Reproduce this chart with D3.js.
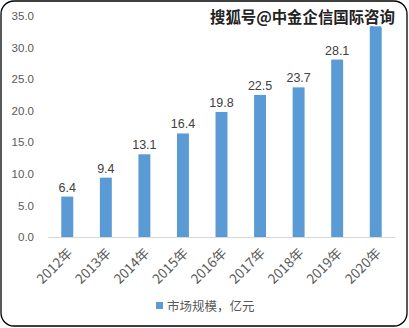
<!DOCTYPE html>
<html><head><meta charset="utf-8">
<script src="https://cdn.jsdelivr.net/npm/d3@7"></script>
<style>body{margin:0;background:#fff}svg{display:block}</style>
</head><body>
<svg id="c" width="409" height="328"></svg>
<script>
const categories = ["2012年","2013年","2014年","2015年","2016年","2017年","2018年","2019年","2020年"];
const values = [6.4, 9.4, 13.1, 16.4, 19.8, 22.5, 23.7, 28.1, 33.4];
const labels = ["6.4","9.4","13.1","16.4","19.8","22.5","23.7","28.1",""];
const yTicks = [0,5,10,15,20,25,30,35];
const seriesName = "市场规模，亿元";
const watermark = "搜狐号@中金企信国际咨询";

const svg = d3.select("#c");
const font = "'Noto Sans CJK SC', 'Liberation Sans', sans-serif";
svg.append("rect").attr("x",1).attr("y",1).attr("width",406).attr("height",325)
  .attr("rx",13).attr("fill","#fff").attr("stroke","#000").attr("stroke-width",1.3);

const x = d3.scaleBand().domain(categories).range([48,395]).paddingInner(0.69).paddingOuter(0.345);
const y = d3.scaleLinear().domain([0,35]).range([237,16]);

const yAxis = d3.axisLeft(y).tickValues(yTicks).tickFormat(d3.format(".1f")).tickSize(0).tickPadding(0);
const gy = svg.append("g").attr("transform","translate(34,0)").call(yAxis);
gy.select(".domain").remove();
gy.selectAll("text").attr("font-family","'Liberation Sans', Arial, sans-serif").attr("font-size",11.5).attr("fill","#595959");

svg.selectAll("rect.bar").data(values).enter().append("rect").attr("class","bar")
  .attr("x",(d,i)=>x(categories[i])).attr("width",x.bandwidth())
  .attr("y",d=>y(d)).attr("height",d=>y(0)-y(d)).attr("fill","#5b9bd5");

const xAxis = d3.axisBottom(x).tickSize(0).tickPadding(0);
const gx = svg.append("g").attr("transform",`translate(0,${y(0)})`).call(xAxis);
gx.select(".domain").attr("stroke","#d9d9d9").attr("stroke-width",1.2);
gx.selectAll("text").attr("font-family",font).attr("font-size",13.5).attr("fill","#595959")
  .attr("text-anchor","end").attr("dy",0).attr("y",0)
  .attr("transform","translate(6,17) rotate(-45)");

svg.selectAll("text.lbl").data(values).enter().append("text").attr("class","lbl")
  .attr("x",(d,i)=>x(categories[i])+x.bandwidth()/2).attr("y",d=>y(d)-5)
  .attr("text-anchor","middle").attr("font-family","'Liberation Sans', Arial, sans-serif")
  .attr("font-size",12.5).attr("fill","#404040").text((d,i)=>labels[i]);

svg.append("rect").attr("x",156).attr("y",302).attr("width",7).attr("height",7).attr("fill","#5b9bd5");
svg.append("text").attr("x",167).attr("y",310.5).attr("font-family",font).attr("font-size",12.5)
  .attr("fill","#595959").text(seriesName);

svg.append("text").attr("x",210).attr("y",23).attr("font-family",font).attr("font-size",15.5)
  .attr("font-weight","bold").attr("fill","#222").attr("stroke","#fff").attr("stroke-width",3)
  .attr("paint-order","stroke").attr("textLength",185).text(watermark);
</script>
</body></html>
